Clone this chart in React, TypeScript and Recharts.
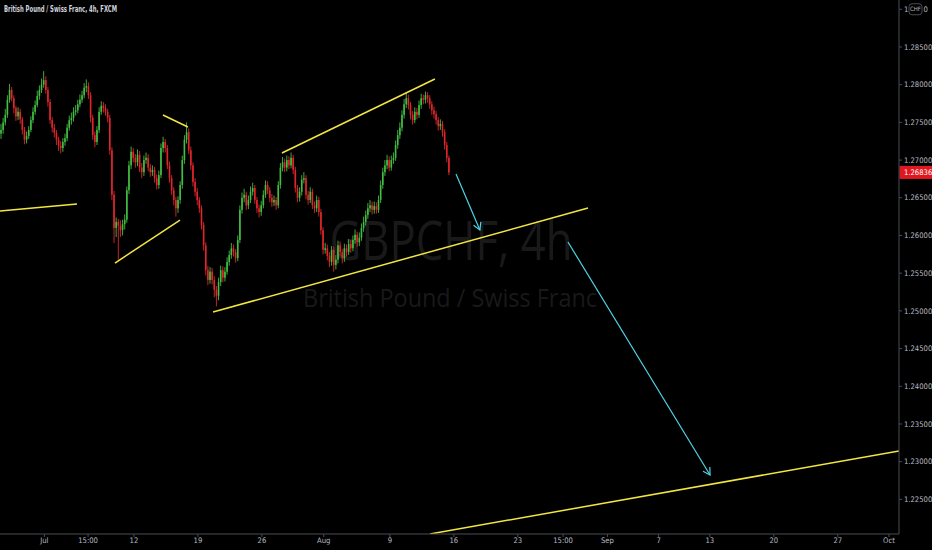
import React from 'react';
import { ComposedChart, Bar, XAxis, YAxis, ReferenceLine } from 'recharts';

const W = 932;
const H = 550;

const TITLE = 'British Pound / Swiss Franc, 4h, FXCM';
const WATERMARK_SYMBOL = 'GBPCHF, 4h';
const WATERMARK_NAME = 'British Pound / Swiss Franc';

const firstOpen = 1.2735;

const closes = [
  1.2740, 1.2750, 1.2760, 1.2780, 1.2793, 1.2782, 1.2769, 1.2758, 1.2764, 1.2754,
  1.2740, 1.2727, 1.2732, 1.2740, 1.2753, 1.2764, 1.2773, 1.2785, 1.2793, 1.2800,
  1.2806, 1.2793, 1.2777, 1.2753, 1.2743, 1.2736, 1.2727, 1.2719, 1.2716, 1.2724,
  1.2729, 1.2743, 1.2753, 1.2756, 1.2764, 1.2766, 1.2774, 1.2780, 1.2786, 1.2796,
  1.2798, 1.2786, 1.2756, 1.2733, 1.2724, 1.2740, 1.2764, 1.2772, 1.2769, 1.2764,
  1.2756, 1.2713, 1.2654, 1.2610, 1.2618, 1.2613, 1.2607, 1.2615, 1.2621, 1.2660,
  1.2693, 1.2711, 1.2703, 1.2697, 1.2707, 1.2690, 1.2684, 1.2700, 1.2703, 1.2690,
  1.2684, 1.2687, 1.2676, 1.2667, 1.2680, 1.2716, 1.2724, 1.2716, 1.2693, 1.2676,
  1.2660, 1.2647, 1.2636, 1.2647, 1.2667, 1.2700, 1.2727, 1.2737, 1.2713, 1.2693,
  1.2671, 1.2658, 1.2647, 1.2636, 1.2614, 1.2587, 1.2554, 1.2541, 1.2552, 1.2541,
  1.2528, 1.2520, 1.2538, 1.2554, 1.2544, 1.2552, 1.2565, 1.2574, 1.2583, 1.2578,
  1.2570, 1.2594, 1.2634, 1.2650, 1.2654, 1.2640, 1.2647, 1.2658, 1.2663, 1.2647,
  1.2636, 1.2631, 1.2640, 1.2654, 1.2667, 1.2660, 1.2650, 1.2644, 1.2647, 1.2640,
  1.2667, 1.2690, 1.2697, 1.2690, 1.2700, 1.2693, 1.2703, 1.2687, 1.2663, 1.2650,
  1.2658, 1.2674, 1.2676, 1.2654, 1.2647, 1.2658, 1.2640, 1.2636, 1.2647, 1.2631,
  1.2607, 1.2581, 1.2583, 1.2573, 1.2565, 1.2581, 1.2561, 1.2568, 1.2587, 1.2578,
  1.2570, 1.2583, 1.2578, 1.2589, 1.2583, 1.2594, 1.2601, 1.2591, 1.2597, 1.2610,
  1.2618, 1.2627, 1.2636, 1.2640, 1.2634, 1.2639, 1.2634, 1.2647, 1.2667, 1.2684,
  1.2693, 1.2700, 1.2690, 1.2700, 1.2703, 1.2720, 1.2733, 1.2743, 1.2760, 1.2774,
  1.2782, 1.2773, 1.2760, 1.2753, 1.2764, 1.2760, 1.2773, 1.2782, 1.2780, 1.2786,
  1.2782, 1.2774, 1.2766, 1.2761, 1.2753, 1.2745, 1.2748, 1.2737, 1.2720, 1.2703, 1.26836,
];

const highs = [
  1.2748, 1.2756, 1.2768, 1.2786, 1.2801, 1.2797, 1.2786, 1.2772, 1.2770, 1.2768,
  1.2757, 1.2744, 1.2738, 1.2745, 1.2758, 1.2770, 1.2779, 1.2792, 1.2799, 1.2808,
  1.2818, 1.2811, 1.2797, 1.2781, 1.2757, 1.2748, 1.2740, 1.2731, 1.2725, 1.2729,
  1.2735, 1.2748, 1.2759, 1.2763, 1.2770, 1.2773, 1.2780, 1.2787, 1.2792, 1.2802,
  1.2807, 1.2803, 1.2790, 1.2760, 1.2738, 1.2745, 1.2770, 1.2778, 1.2777, 1.2774,
  1.2768, 1.2760, 1.2717, 1.2659, 1.2624, 1.2622, 1.2620, 1.2621, 1.2628, 1.2665,
  1.2699, 1.2718, 1.2716, 1.2708, 1.2714, 1.2712, 1.2696, 1.2706, 1.2710, 1.2708,
  1.2695, 1.2693, 1.2691, 1.2681, 1.2686, 1.2722, 1.2731, 1.2728, 1.2720, 1.2698,
  1.2680, 1.2664, 1.2651, 1.2652, 1.2672, 1.2706, 1.2733, 1.2750, 1.2742, 1.2718,
  1.2697, 1.2676, 1.2663, 1.2651, 1.2640, 1.2618, 1.2591, 1.2560, 1.2558, 1.2557,
  1.2546, 1.2533, 1.2544, 1.2560, 1.2559, 1.2558, 1.2571, 1.2580, 1.2590, 1.2588,
  1.2582, 1.2600, 1.2640, 1.2657, 1.2662, 1.2658, 1.2653, 1.2665, 1.2670, 1.2667,
  1.2651, 1.2641, 1.2646, 1.2660, 1.2673, 1.2672, 1.2664, 1.2655, 1.2653, 1.2651,
  1.2672, 1.2696, 1.2704, 1.2702, 1.2706, 1.2705, 1.2710, 1.2707, 1.2691, 1.2667,
  1.2664, 1.2680, 1.2684, 1.2680, 1.2659, 1.2664, 1.2662, 1.2645, 1.2653, 1.2651,
  1.2635, 1.2611, 1.2590, 1.2588, 1.2578, 1.2586, 1.2585, 1.2574, 1.2593, 1.2592,
  1.2582, 1.2589, 1.2588, 1.2595, 1.2594, 1.2600, 1.2608, 1.2605, 1.2604, 1.2616,
  1.2625, 1.2633, 1.2643, 1.2647, 1.2645, 1.2645, 1.2644, 1.2653, 1.2673, 1.2690,
  1.2700, 1.2707, 1.2705, 1.2706, 1.2710, 1.2726, 1.2740, 1.2750, 1.2766, 1.2781,
  1.2790, 1.2787, 1.2777, 1.2765, 1.2770, 1.2769, 1.2779, 1.2788, 1.2787, 1.2791,
  1.2790, 1.2786, 1.2778, 1.2771, 1.2765, 1.2757, 1.2754, 1.2752, 1.2741, 1.2724, 1.2706,
];

const lows = [
  1.2728, 1.2735, 1.2746, 1.2756, 1.2776, 1.2778, 1.2762, 1.2752, 1.2753, 1.2748,
  1.2734, 1.2721, 1.2722, 1.2728, 1.2737, 1.2749, 1.2760, 1.2770, 1.2780, 1.2789,
  1.2796, 1.2788, 1.2771, 1.2748, 1.2737, 1.2730, 1.2720, 1.2712, 1.2709, 1.2711,
  1.2719, 1.2725, 1.2739, 1.2747, 1.2751, 1.2759, 1.2762, 1.2770, 1.2776, 1.2782,
  1.2790, 1.2781, 1.2750, 1.2727, 1.2717, 1.2720, 1.2736, 1.2760, 1.2763, 1.2759,
  1.2750, 1.2707, 1.2647, 1.2590, 1.2598, 1.2568, 1.2598, 1.2600, 1.2608, 1.2617,
  1.2655, 1.2688, 1.2697, 1.2690, 1.2692, 1.2684, 1.2676, 1.2679, 1.2695, 1.2685,
  1.2678, 1.2679, 1.2670, 1.2661, 1.2662, 1.2676, 1.2710, 1.2710, 1.2688, 1.2670,
  1.2654, 1.2640, 1.2625, 1.2630, 1.2642, 1.2662, 1.2695, 1.2722, 1.2708, 1.2687,
  1.2665, 1.2652, 1.2640, 1.2630, 1.2608, 1.2580, 1.2547, 1.2534, 1.2536, 1.2535,
  1.2518, 1.2506, 1.2514, 1.2533, 1.2538, 1.2539, 1.2548, 1.2560, 1.2569, 1.2572,
  1.2564, 1.2566, 1.2590, 1.2629, 1.2644, 1.2634, 1.2635, 1.2643, 1.2653, 1.2642,
  1.2630, 1.2624, 1.2626, 1.2636, 1.2650, 1.2655, 1.2644, 1.2638, 1.2639, 1.2634,
  1.2636, 1.2662, 1.2685, 1.2684, 1.2685, 1.2688, 1.2689, 1.2681, 1.2657, 1.2644,
  1.2645, 1.2653, 1.2669, 1.2648, 1.2641, 1.2643, 1.2635, 1.2630, 1.2631, 1.2625,
  1.2601, 1.2575, 1.2576, 1.2567, 1.2558, 1.2560, 1.2552, 1.2555, 1.2563, 1.2572,
  1.2563, 1.2565, 1.2572, 1.2574, 1.2577, 1.2579, 1.2589, 1.2585, 1.2586, 1.2593,
  1.2605, 1.2613, 1.2622, 1.2631, 1.2628, 1.2629, 1.2629, 1.2630, 1.2643, 1.2662,
  1.2679, 1.2688, 1.2685, 1.2686, 1.2695, 1.2699, 1.2715, 1.2728, 1.2738, 1.2755,
  1.2769, 1.2767, 1.2754, 1.2747, 1.2749, 1.2754, 1.2756, 1.2768, 1.2774, 1.2775,
  1.2776, 1.2768, 1.2760, 1.2755, 1.2747, 1.2739, 1.2740, 1.2731, 1.2714, 1.2697, 1.2680,
];

// time axis: bar index positions and their labels
const xTickValues = [20.3, 40.8, 62.3, 92.3, 122.3, 151.3, 182.3, 212.3, 242.3, 263.5, 284.3, 308.3, 332.3, 362.3, 392.3, 416.3];
const xTickLabels = ['Jul', '15:00', '12', '19', '26', 'Aug', '9', '16', '23', '15:00', 'Sep', '7', '13', '20', '27', 'Oct'];

const yTickValues = [1.225, 1.23, 1.235, 1.24, 1.245, 1.25, 1.255, 1.26, 1.265, 1.27, 1.275, 1.28, 1.285, 1.29];
const CURRENCY = 'CHF';

// trend lines in (bar index, price)
const yellowLines = [
  { x1: -0.5, y1: 1.26325, x2: 35.6, y2: 1.26417 },
  { x1: 53.4, y1: 1.25635, x2: 83.9, y2: 1.26205 },
  { x1: 75.9, y1: 1.27598, x2: 87.6, y2: 1.27439 },
  { x1: 99.4, y1: 1.24985, x2: 275.2, y2: 1.26364 },
  { x1: 131.7, y1: 1.27094, x2: 203.4, y2: 1.28075 },
  { x1: 201.1, y1: 1.22041, x2: 421.0, y2: 1.23142 },
];

const cyanArrows = [
  { x1: 213.3, y1: 1.26815, x2: 224.5, y2: 1.26073 },
  { x1: 265.8, y1: 1.25913, x2: 332.4, y2: 1.22823 },
];

const X_DOMAIN: [number, number] = [-0.5, 421];
const Y_DOMAIN: [number, number] = [1.22041, 1.29123];

const UP = '#43bd43';
const DOWN = '#e0262b';
const YELLOW = '#f4e640';
const CYAN = '#4fd3e6';
const AXIS = '#4a4d55';
const LABEL = '#b8bbc2';
const FONT = '"Liberation Sans Narrow", "DejaVu Sans Condensed", "Liberation Sans", sans-serif';

const rows = closes.map((c, i) => ({
  i,
  o: i === 0 ? firstOpen : closes[i - 1],
  c,
  h: highs[i],
  l: lows[i],
  range: [lows[i], highs[i]],
}));

const lastClose = closes[closes.length - 1];

function Candle(props: any) {
  const { x, y, width, height, payload } = props;
  if (!payload || x == null || y == null) return null;
  const top = Math.min(y, y + height);
  const h = Math.abs(height);
  const span = payload.h - payload.l;
  const k = span > 0 ? h / span : 0;
  const yo = top + (payload.h - payload.o) * k;
  const yc = top + (payload.h - payload.c) * k;
  const up = payload.c >= payload.o;
  const color = up ? UP : DOWN;
  const cx = x + width / 2;
  const bt = Math.min(yo, yc);
  const bh = Math.max(1, Math.abs(yc - yo));
  return (
    <g>
      <line x1={cx} x2={cx} y1={top} y2={top + h} stroke={color} strokeWidth={0.9} />
      <rect x={cx - 0.8} y={bt} width={1.6} height={bh} fill={color} />
    </g>
  );
}

function ArrowShape(props: any) {
  const { x1, y1, x2, y2 } = props;
  if ([x1, y1, x2, y2].some((v) => v == null || isNaN(v))) return null;
  const ang = Math.atan2(y2 - y1, x2 - x1);
  const len = 8;
  const spread = Math.PI / 6;
  const ax = x2 - len * Math.cos(ang - spread);
  const ay = y2 - len * Math.sin(ang - spread);
  const bx = x2 - len * Math.cos(ang + spread);
  const by = y2 - len * Math.sin(ang + spread);
  return (
    <g>
      <line x1={x1} y1={y1} x2={x2} y2={y2} stroke={CYAN} strokeWidth={1.2} />
      <polyline points={`${ax},${ay} ${x2},${y2} ${bx},${by}`} fill="none" stroke={CYAN} strokeWidth={1.2} />
    </g>
  );
}

function PriceBadge(props: any) {
  const { x1, x2, y1 } = props;
  if (x2 == null || y1 == null) return null;
  const right = Math.max(x1 ?? 0, x2);
  return (
    <g>
      <rect x={right + 0.5} y={y1 - 6.5} width={33} height={13} fill="#e0171f" />
      <text x={right + 5} y={y1} dy="0.35em" fill="#ffffff" fontSize={7.6} fontFamily={FONT}>
        {lastClose.toFixed(5)}
      </text>
    </g>
  );
}

function YTick(props: any) {
  const { x, y, payload } = props;
  const v = payload.value as number;
  if (Math.abs(v - 1.29) < 1e-9) {
    // top label is partly covered by the currency badge: "1." [CHF] "0"
    return (
      <g>
        <text x={x} y={y} dy="0.35em" fill={LABEL} fontSize={7.6} fontFamily={FONT} textAnchor="start">
          1.
        </text>
        <rect x={x + 5} y={y - 5.5} width={13} height={11} rx={3} fill="#000000" stroke="#5d6068" strokeWidth={0.8} />
        <text x={x + 11.5} y={y} dy="0.35em" fill={LABEL} fontSize={6} fontFamily={FONT} textAnchor="middle">
          {CURRENCY}
        </text>
        <text x={x + 19.5} y={y} dy="0.35em" fill={LABEL} fontSize={7.6} fontFamily={FONT} textAnchor="start">
          0
        </text>
      </g>
    );
  }
  return (
    <text x={x} y={y} dy="0.35em" fill={LABEL} fontSize={7.6} fontFamily={FONT} textAnchor="start">
      {v.toFixed(5)}
    </text>
  );
}

function XTick(props: any) {
  const { x, y, payload } = props;
  const idx = xTickValues.indexOf(payload.value);
  return (
    <text x={x} y={y} dy="0.71em" fill={LABEL} fontSize={7.6} fontFamily={FONT} textAnchor="middle">
      {idx >= 0 ? xTickLabels[idx] : ''}
    </text>
  );
}

export default function App() {
  return (
    <div style={{ position: 'absolute', left: 0, top: 0, width: W, height: H, background: '#000000', overflow: 'hidden' }}>
      <svg width={W} height={H} style={{ position: 'absolute', left: 0, top: 0 }}>
        <text
          x={451}
          y={260}
          fill="#191919"
          fontSize={55}
          fontFamily='"Open Sans", "DejaVu Sans", sans-serif'
          textAnchor="middle"
          textLength={243}
          lengthAdjust="spacingAndGlyphs"
        >
          {WATERMARK_SYMBOL}
        </text>
        <text
          x={450}
          y={307}
          fill="#191919"
          fontSize={25}
          fontFamily='"Open Sans", "DejaVu Sans", sans-serif'
          textAnchor="middle"
          textLength={294}
          lengthAdjust="spacingAndGlyphs"
        >
          {WATERMARK_NAME}
        </text>
        <text x={4} y={12} fill="#d1d4dc" fontSize={8.6} fontWeight={600} fontFamily={FONT} textLength={113} lengthAdjust="spacingAndGlyphs">
          {TITLE}
        </text>
      </svg>
      <div style={{ position: 'absolute', left: 0, top: 0 }}>
        <ComposedChart width={W} height={H} data={rows} margin={{ top: 0, right: 0, bottom: 0, left: 0 }}>
          <XAxis
            dataKey="i"
            type="number"
            domain={X_DOMAIN}
            allowDataOverflow
            ticks={xTickValues}
            interval={0}
            height={16}
            axisLine={{ stroke: AXIS }}
            tickLine={{ stroke: AXIS }}
            tickSize={3}
            tickMargin={1}
            tick={<XTick />}
          />
          <YAxis
            orientation="right"
            type="number"
            domain={Y_DOMAIN}
            allowDataOverflow
            ticks={yTickValues}
            interval={0}
            width={33}
            axisLine={{ stroke: AXIS }}
            tickLine={{ stroke: AXIS }}
            tickSize={3}
            tickMargin={2}
            tick={<YTick />}
          />
          <Bar dataKey="range" barSize={2} shape={<Candle />} isAnimationActive={false} />
          {yellowLines.map((s, k) => (
            <ReferenceLine
              key={`y${k}`}
              segment={[{ x: s.x1, y: s.y1 }, { x: s.x2, y: s.y2 }]}
              stroke={YELLOW}
              strokeWidth={1.5}
              ifOverflow="hidden"
            />
          ))}
          {cyanArrows.map((s, k) => (
            <ReferenceLine
              key={`c${k}`}
              segment={[{ x: s.x1, y: s.y1 }, { x: s.x2, y: s.y2 }]}
              stroke={CYAN}
              ifOverflow="hidden"
              shape={<ArrowShape />}
            />
          ))}
          <ReferenceLine y={lastClose} stroke="none" ifOverflow="visible" shape={<PriceBadge />} />
        </ComposedChart>
      </div>
    </div>
  );
}
